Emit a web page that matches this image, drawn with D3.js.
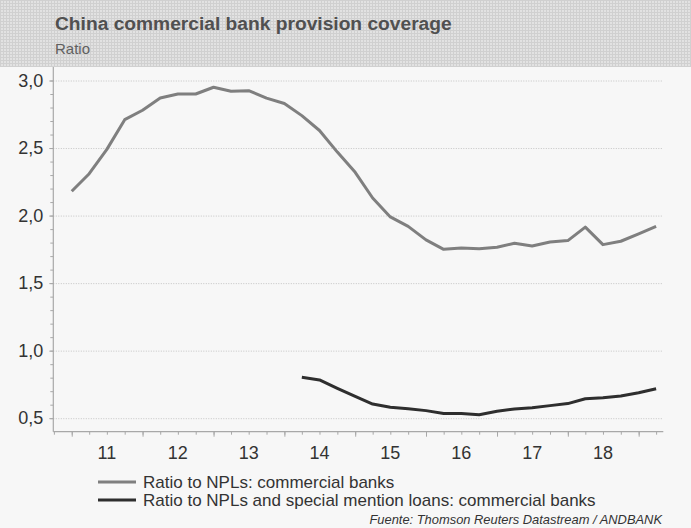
<!DOCTYPE html>
<html>
<head>
<meta charset="utf-8">
<script src="https://cdn.jsdelivr.net/npm/d3@7"></script>
<style>
  html, body { margin: 0; padding: 0; background: #f7f7f7; }
  svg { display: block; font-family: "Liberation Sans", Arial, sans-serif; }
</style>
</head>
<body>
<svg id="chart"></svg>
<script>
// quarter ends, Q4 2010 .. Q1 2019
const quarters = [
    "2010-12", "2011-03", "2011-06", "2011-09", "2011-12", "2012-03", "2012-06", "2012-09",
    "2012-12", "2013-03", "2013-06", "2013-09", "2013-12", "2014-03", "2014-06", "2014-09",
    "2014-12", "2015-03", "2015-06", "2015-09", "2015-12", "2016-03", "2016-06", "2016-09",
    "2016-12", "2017-03", "2017-06", "2017-09", "2017-12", "2018-03", "2018-06", "2018-09",
    "2018-12", "2019-03"
];
const ratioNPL = [
    2.18, 2.31, 2.49, 2.71, 2.78, 2.87, 2.90, 2.90,
    2.95, 2.92, 2.925, 2.87, 2.83, 2.74, 2.63, 2.47,
    2.32, 2.13, 1.99, 1.92, 1.82, 1.75, 1.76, 1.755,
    1.765, 1.795, 1.775, 1.805, 1.815, 1.915, 1.785, 1.81,
    1.865, 1.92
];
// starts at 2014-03
const ratioNPLSML = [
    null, null, null, null, null, null, null, null,
    null, null, null, null, null, 0.803, 0.783, 0.721,
    0.661, 0.605, 0.581, 0.570, 0.556, 0.534, 0.534, 0.526,
    0.551, 0.568, 0.578, 0.593, 0.608, 0.644, 0.652, 0.664,
    0.688, 0.718
];
const years = [2011, 2012, 2013, 2014, 2015, 2016, 2017, 2018];
const yMajor = [0.5, 1.0, 1.5, 2.0, 2.5, 3.0];
const seriesNames = [
    "Ratio to NPLs: commercial banks",
    "Ratio to NPLs and special mention loans: commercial banks"
];
const seriesColors = ["#7f7f7f", "#2e2e2e"];

const width = 691, height = 528;
const plot = { left: 53.3, right: 663.3, top: 67, bottom: 431.7 };

const svg = d3.select("#chart").attr("width", width).attr("height", height);

// hatched header band
const defs = svg.append("defs");
const pat = defs.append("pattern")
    .attr("id", "hatch")
    .attr("width", 3).attr("height", 3)
    .attr("patternUnits", "userSpaceOnUse");
pat.append("rect").attr("width", 3).attr("height", 3).attr("fill", "#e2e2e2");
pat.append("rect").attr("width", 3).attr("height", 1).attr("fill", "#d0d0d0");
pat.append("rect").attr("width", 1).attr("height", 3).attr("fill", "#d0d0d0");

svg.append("rect").attr("width", width).attr("height", height).attr("fill", "#f7f7f7");
svg.append("rect").attr("width", width).attr("height", plot.top).attr("fill", "url(#hatch)");

svg.append("text")
    .attr("x", 55).attr("y", 30)
    .attr("font-size", "19.2px").attr("font-weight", "bold")
    .attr("fill", "#505050")
    .text("China commercial bank provision coverage");
svg.append("text")
    .attr("x", 55).attr("y", 54)
    .attr("font-size", "15px")
    .attr("fill", "#606060")
    .text("Ratio");

const parseQ = d3.timeParse("%Y-%m");
const dates = quarters.map(q => d3.timeMonth.offset(parseQ(q), 1));

const x = d3.scaleTime()
    .domain([new Date(2010, 8, 28), new Date(2019, 4, 8)])
    .range([plot.left, plot.right]);
const y = d3.scaleLinear()
    .domain([0.4, 3.1])
    .range([plot.bottom, plot.top]);

const fmt = d => d3.format(".1f")(d).replace(".", ",");

// grid
svg.append("g")
    .attr("transform", `translate(${plot.left},0)`)
    .call(d3.axisLeft(y).tickValues(yMajor).tickSize(-(plot.right - plot.left)).tickFormat(""))
    .call(g => g.select(".domain").remove())
    .call(g => g.selectAll("line")
        .attr("stroke", "#c4c4c4")
        .attr("stroke-dasharray", "1,1.5"));

// y minor ticks
const yMinor = d3.range(5, 31).map(d => d / 10);
svg.append("g")
    .attr("transform", `translate(${plot.left},0)`)
    .call(d3.axisLeft(y).tickValues(yMinor).tickSize(3).tickFormat(""))
    .call(g => g.select(".domain").remove())
    .call(g => g.selectAll("line").attr("stroke", "#a8a8a8"));

// y axis
svg.append("g")
    .attr("transform", `translate(${plot.left},0)`)
    .call(d3.axisLeft(y).tickValues(yMajor).tickSize(4).tickPadding(6).tickFormat(fmt))
    .call(g => g.select(".domain")
        .attr("d", `M0,${plot.top}V${plot.bottom}`)
        .attr("stroke", "#a8a8a8").attr("stroke-width", 1.2))
    .call(g => g.selectAll("line").attr("stroke", "#a8a8a8"))
    .call(g => g.selectAll("text")
        .attr("font-size", "18px").attr("fill", "#333")
        .attr("font-family", "'Liberation Sans', Arial, sans-serif"));

// x axis: quarter minor ticks, year major ticks, labels mid-year
const xMinor = d3.timeMonth.every(3).range(new Date(2010, 9, 1), new Date(2019, 4, 8));
svg.append("g")
    .attr("transform", `translate(0,${plot.bottom})`)
    .call(d3.axisBottom(x).tickValues(xMinor).tickSize(3).tickFormat(""))
    .call(g => g.select(".domain")
        .attr("d", `M${plot.left},0H${plot.right}`)
        .attr("stroke", "#a8a8a8").attr("stroke-width", 1.2))
    .call(g => g.selectAll("line").attr("stroke", "#a8a8a8"));

const yearStarts = years.concat([2019]).map(yr => new Date(yr, 0, 1));
svg.append("g")
    .attr("transform", `translate(0,${plot.bottom})`)
    .call(d3.axisBottom(x).tickValues(yearStarts).tickSize(5).tickFormat(""))
    .call(g => g.select(".domain").remove())
    .call(g => g.selectAll("line").attr("stroke", "#a8a8a8"));

svg.append("g")
    .selectAll("text")
    .data(years)
    .join("text")
    .attr("x", d => x(new Date(d, 6, 1)))
    .attr("y", plot.bottom + 27)
    .attr("text-anchor", "middle")
    .attr("font-size", "18px")
    .attr("fill", "#333")
    .text(d => String(d).slice(2));

// lines
const line = d3.line()
    .defined(d => d.v !== null)
    .x(d => x(d.date))
    .y(d => y(d.v));

[ratioNPL, ratioNPLSML].forEach((vals, i) => {
    const pts = vals.map((v, j) => ({ date: dates[j], v: v }));
    svg.append("path")
        .datum(pts)
        .attr("fill", "none")
        .attr("stroke", seriesColors[i])
        .attr("stroke-width", 3)
        .attr("stroke-linejoin", "round")
        .attr("d", line);
});

// legend
const legend = svg.append("g").attr("transform", "translate(98,482)");
seriesNames.forEach((name, i) => {
    const row = legend.append("g").attr("transform", `translate(0,${i * 18})`);
    row.append("line")
        .attr("x1", 0).attr("x2", 38)
        .attr("stroke", seriesColors[i]).attr("stroke-width", 3);
    row.append("text")
        .attr("x", 45).attr("y", 6)
        .attr("font-size", "17px")
        .attr("fill", "#333")
        .text(name);
});

svg.append("text")
    .attr("x", 662).attr("y", 524)
    .attr("text-anchor", "end")
    .attr("font-size", "12.9px")
    .attr("font-style", "italic")
    .attr("fill", "#333")
    .text("Fuente: Thomson Reuters Datastream / ANDBANK");
</script>
</body>
</html>
